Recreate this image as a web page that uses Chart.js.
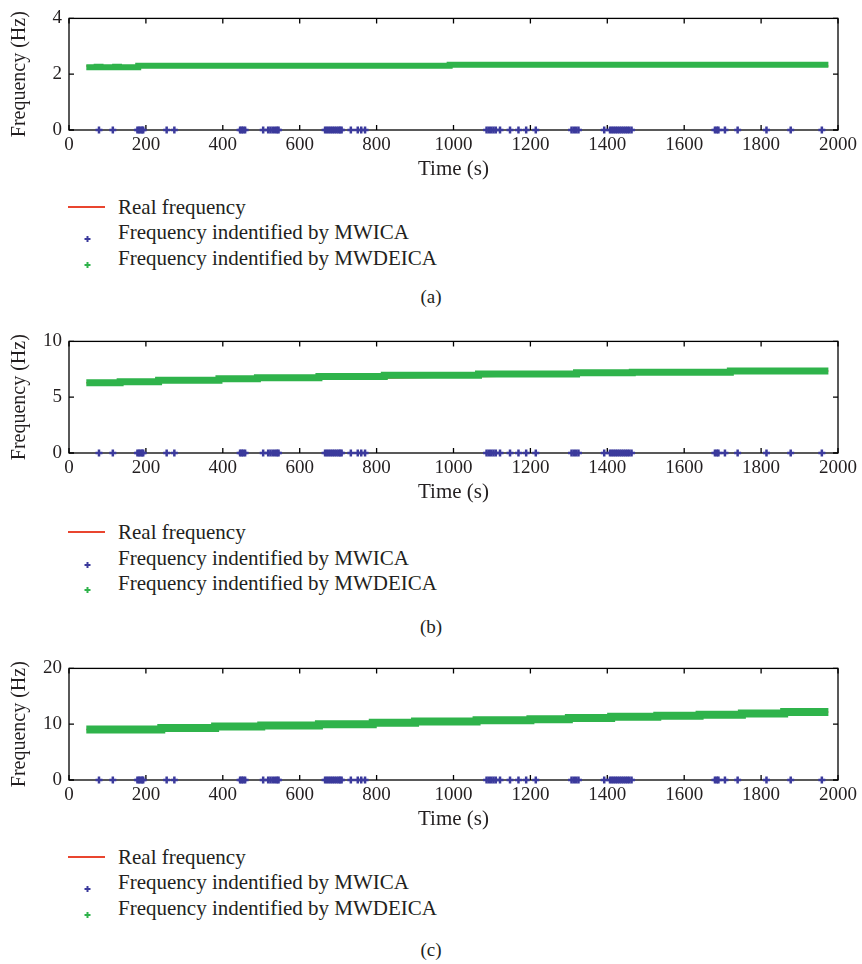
<!DOCTYPE html>
<html>
<head>
<meta charset="utf-8">
<script src="https://cdn.jsdelivr.net/npm/chart.js@4.4.1/dist/chart.umd.min.js"></script>
<style>
  body { margin: 0; background: #fff; width: 862px; height: 964px; position: relative; overflow: hidden;
         font-family: "Liberation Serif", "Times New Roman", serif; color: #231f20; }
  .panel { position: absolute; left: 0; }
  .row { position: absolute; left: 118px; font-size: 21px; line-height: 24px; white-space: nowrap; transform: translateY(-50%); }
  .redline { position: absolute; left: 68px; width: 37px; height: 1.5px; background: #e9452f; }
  .mark { position: absolute; left: 84px; width: 7px; height: 7px; transform: translateY(-50%); }
  .cap { position: absolute; left: 0; width: 862px; text-align: center; font-size: 19px; line-height: 24px; transform: translateY(-50%); }
</style>
</head>
<body>
<canvas id="chartA" class="panel" width="862" height="190" style="top:0px"></canvas>
<canvas id="chartB" class="panel" width="862" height="190" style="top:323px"></canvas>
<canvas id="chartC" class="panel" width="862" height="190" style="top:650px"></canvas>
<div id="legends"></div>
<script>
// time points of MWICA detections (all sit on 0 Hz)
const blueTimes = [78, 114, 178, 182, 186, 190, 193, 254, 274, 445, 449, 453, 458, 505,
  518, 524, 530, 536, 541, 545, 666, 671, 676, 681, 686, 691, 696, 701, 705, 709, 733,
  751, 760, 770, 1086, 1092, 1098, 1104, 1110, 1121, 1147, 1169, 1189, 1214,
  1307, 1313, 1319, 1325, 1392, 1407, 1412, 1417, 1422, 1427, 1432, 1437, 1442, 1447,
  1452, 1457, 1463, 1680, 1685, 1689, 1706, 1739, 1814, 1877, 1958];
const blueFreq = 0;

// MWDEICA (green) step values, panel a/b/c
const greenTimesA = [45, 72, 82, 120, 130, 180, 990, 1975];
const greenFreqA = [2.245, 2.27, 2.245, 2.265, 2.245, 2.30, 2.335, 2.335];
const greenTimesB = [45, 133, 233, 390, 490, 650, 820, 1065, 1320, 1465, 1720, 1975];
const greenFreqB = [6.30, 6.38, 6.52, 6.65, 6.74, 6.85, 6.96, 7.07, 7.18, 7.23, 7.34, 7.34];
const greenTimesC = [45, 240, 380, 500, 650, 790, 900, 1060, 1200, 1300, 1410, 1530, 1640, 1750, 1860, 1975];
const greenFreqC = [9.03, 9.30, 9.58, 9.75, 9.97, 10.25, 10.47, 10.70, 10.90, 11.10, 11.35, 11.50, 11.70, 11.90, 12.20, 12.20];

// real frequency (mostly hidden under the green band)
const realTimes = [45, 1975];
const realFreqA = [2.29, 2.29];
const realFreqB = [6.30, 7.34];
const realFreqC = [9.03, 12.20];

const yMaxes = [4, 10, 20];
const yStepsList = [2, 5, 10];
const legendLabels = ["Real frequency", "Frequency indentified by MWICA", "Frequency indentified by MWDEICA"];
const captions = ["(a)", "(b)", "(c)"];

const FONT = "'Liberation Serif', 'Times New Roman', serif";
const INK = "#231f20";

const toPts = (xs, ys) => xs.map((x, i) => ({ x: x, y: Array.isArray(ys) ? ys[i] : ys }));

// box around plot area with inward tick marks, like the original figure
const frameTicks = {
  id: "frameTicks",
  beforeDatasetsDraw(chart) {
    const { ctx, chartArea: a, scales: { x, y } } = chart;
    ctx.save();
    ctx.strokeStyle = "#000";
    ctx.lineWidth = 1.3;
    ctx.strokeRect(a.left, a.top, a.right - a.left, a.bottom - a.top);
    const len = 5;
    ctx.beginPath();
    x.ticks.forEach((t) => {
      const px = x.getPixelForValue(t.value);
      ctx.moveTo(px, a.bottom); ctx.lineTo(px, a.bottom - len);
      ctx.moveTo(px, a.top); ctx.lineTo(px, a.top + len);
    });
    y.ticks.forEach((t) => {
      const py = y.getPixelForValue(t.value);
      ctx.moveTo(a.left, py); ctx.lineTo(a.left + len, py);
      ctx.moveTo(a.right, py); ctx.lineTo(a.right - len, py);
    });
    ctx.stroke();
    ctx.restore();
  },
};

function makePanel(id, greenT, greenF, realF, yMax, yStep, band) {
  new Chart(document.getElementById(id), {
    type: "scatter",
    data: {
      datasets: [
        {
          label: legendLabels[1],
          data: toPts(blueTimes, blueFreq),
          pointStyle: "cross",
          pointRadius: 3.5,
          borderWidth: 2.5,
          borderColor: "#3b3a9c",
          backgroundColor: "#3b3a9c",
          clip: false,
        },
        {
          label: legendLabels[2],
          data: toPts(greenT, greenF),
          showLine: true,
          stepped: true,
          borderColor: "#2fb34b",
          borderWidth: band,
          pointRadius: 0,
        },
        {
          label: legendLabels[0],
          data: toPts(realTimes, realF),
          showLine: true,
          borderColor: "#e9452f",
          borderWidth: 1.5,
          pointRadius: 0,
        },
      ],
    },
    options: {
      responsive: false,
      animation: false,
      layout: { padding: { top: 10, right: 24, bottom: 4, left: 0 } },
      plugins: { legend: { display: false }, tooltip: { enabled: false } },
      scales: {
        x: {
          type: "linear",
          min: 0,
          max: 2000,
          afterFit: (s) => { s.height = 56; },
          grid: { display: false, drawTicks: false },
          border: { display: false },
          ticks: { stepSize: 200, padding: 4, color: INK, font: { family: FONT, size: 19 },
                   callback: (v) => String(v) },
          title: { display: true, text: "Time (s)", color: INK, padding: { top: 0, bottom: 4 },
                   font: { family: FONT, size: 21, lineHeight: 1.15 } },
        },
        y: {
          min: 0,
          max: yMax,
          afterFit: (s) => { s.width = 69; },
          grid: { display: false, drawTicks: false },
          border: { display: false },
          ticks: { stepSize: yStep, padding: 7, color: INK, font: { family: FONT, size: 19 },
                   callback: (v) => String(v) },
          title: { display: true, text: "Frequency (Hz)", color: INK, padding: { top: 8, bottom: 0 },
                   font: { family: FONT, size: 20, lineHeight: 1.2 } },
        },
      },
    },
    plugins: [frameTicks],
  });
}

makePanel("chartA", greenTimesA, greenFreqA, realFreqA, yMaxes[0], yStepsList[0], 6);
makePanel("chartB", greenTimesB, greenFreqB, realFreqB, yMaxes[1], yStepsList[1], 7);
makePanel("chartC", greenTimesC, greenFreqC, realFreqC, yMaxes[2], yStepsList[2], 8);

// html legends and captions under each panel
const legendRows = [[207, 232, 258], [532, 558, 583], [857, 882, 908]];
const captionY = [297, 627, 950];
const box = document.getElementById("legends");
const crossSvg = (c) => '<svg width="7" height="7"><path d="M3.5 0.5V6.5M0.5 3.5H6.5" stroke="' + c + '" stroke-width="2"/></svg>';
legendRows.forEach((rows, p) => {
  let html = '<div class="redline" style="top:' + (rows[0] - 0.75) + 'px"></div>';
  html += '<div class="mark" style="top:' + rows[1] + 'px">' + crossSvg("#3b3a9c") + "</div>";
  html += '<div class="mark" style="top:' + rows[2] + 'px">' + crossSvg("#2fb34b") + "</div>";
  rows.forEach((y, i) => { html += '<div class="row" style="top:' + y + 'px">' + legendLabels[i] + "</div>"; });
  html += '<div class="cap" style="top:' + captionY[p] + 'px">' + captions[p] + "</div>";
  box.insertAdjacentHTML("beforeend", html);
});
</script>
</body>
</html>
